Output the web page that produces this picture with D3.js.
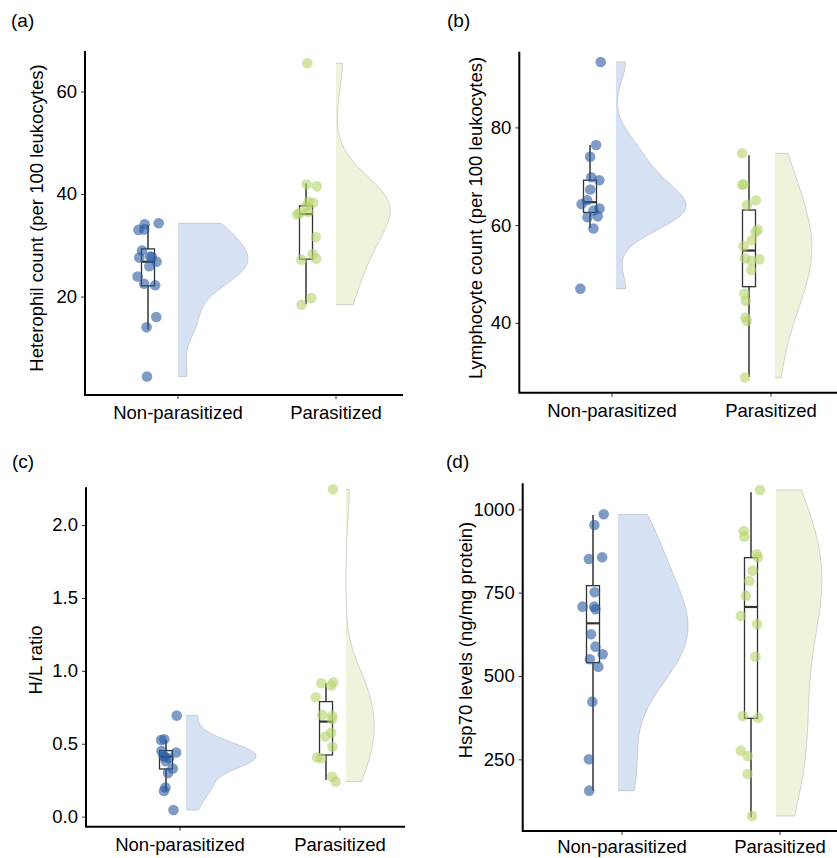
<!DOCTYPE html>
<html>
<head>
<meta charset="utf-8">
<script src="https://cdn.jsdelivr.net/npm/d3@7"></script>
<style>
  body { margin: 0; background: #fff; }
  svg { display: block; font-family: "Liberation Sans", Arial, sans-serif; }
</style>
</head>
<body>
<div id="vis-display"></div>
<script>
// Four raincloud panels: jittered points + boxplot + half violin, per group.

const GROUPS = ["Non-parasitized", "Parasitized"];

// ── Values ─────────────────────────────────────────────────────────────────
const hetNP = [34.3, 34.1, 33.1, 33.0, 29.0, 27.8, 27.7, 27.6, 26.8, 25.9, 23.9, 22.5, 22.2, 16.0, 14.0, 4.4];
const hetP  = [65.5, 41.9, 41.5, 38.5, 38.3, 37.6, 36.5, 36.3, 36.0, 31.6, 28.3, 27.4, 27.2, 19.7, 18.4];
const lymNP = [93.4, 76.4, 74.0, 69.8, 69.2, 67.3, 65.1, 64.3, 63.4, 63.0, 61.8, 61.6, 59.3, 47.0];
const lymP  = [74.7, 68.3, 68.3, 65.1, 64.1, 59.1, 58.6, 56.9, 55.7, 53.2, 53.0, 52.7, 50.8, 46.0, 44.5, 41.1, 40.4, 28.8];
const hlNP  = [0.693, 0.531, 0.525, 0.45, 0.44, 0.42, 0.41, 0.40, 0.38, 0.33, 0.30, 0.20, 0.176, 0.046];
const hlP   = [2.245, 0.922, 0.915, 0.90, 0.819, 0.698, 0.691, 0.668, 0.576, 0.549, 0.48, 0.405, 0.40, 0.274, 0.24];
const hspNP = [985, 953, 856, 851, 751, 708, 708, 700, 625, 588, 565, 550, 528, 423, 250, 156];
const hspP  = [1058, 935, 918, 865, 856, 816, 785, 741, 680, 656, 558, 380, 375, 276, 260, 206, 80];

// boxplot stats per group: [lower whisker, Q1, median, Q3, upper whisker]
const hetBox = [[13.6, 22.1, 26.8, 29.3, 34.0], [18.5, 27.3, 36.1, 37.7, 42.1]];
const lymBox = [[59.4, 62.6, 64.7, 69.2, 76.4], [28.9, 47.4, 54.8, 63.1, 74.3]];
const hlBox  = [[0.176, 0.327, 0.412, 0.453, 0.526], [0.252, 0.423, 0.652, 0.789, 0.915]];
const hspBox = [[156, 540, 658, 771, 983], [76, 373, 707, 855, 1051]];

const hetTicks = [20, 40, 60];
const lymTicks = [40, 60, 80];
const hlTicks  = [0, 0.5, 1.0, 1.5, 2.0];
const hspTicks = [250, 500, 750, 1000];

// ── Layout ────────────────────────────────────────────────────────────────
const W = 837, H = 858;
const FONT = 18.5;
const VIOLIN_MAX = 70;
const BW_ADJUST = 1.25;
const BOX_W = 13;
const PT_R = 5.3;

const POINT_FILL  = ["#2a5aa0", "#b5d36a"];
const VIOLIN_FILL = ["#d6e2f4", "#eef4dc"];

const panels = [
  { tag: "(a)", data: [hetNP, hetP], box: hetBox, ticks: hetTicks, fmt: d3.format("d"),
    title: "Heterophil count (per 100 leukocytes)",
    x0: 85, x1: 403, y0: 51, y1: 395, domain: [0.8, 67.9],
    cats: [178, 336], boxNudge: -30, violinNudge: 0,
    titleX: 36, titleY: 218, tagX: 11, tagY: 27, xLabY: 419, seed: 3 },
  { tag: "(b)", data: [lymNP, lymP], box: lymBox, ticks: lymTicks, fmt: d3.format("d"),
    title: "Lymphocyte count (per 100 leukocytes)",
    x0: 519.3, x1: 837, y0: 51.7, y1: 392.7, domain: [25.7, 95.5],
    cats: [612, 771], boxNudge: -22, violinNudge: 4,
    titleX: 475, titleY: 218, tagX: 447, tagY: 27, xLabY: 417, seed: 11 },
  { tag: "(c)", data: [hlNP, hlP], box: hlBox, ticks: hlTicks, fmt: d3.format(".1f"),
    title: "H/L ratio",
    x0: 86, x1: 405, y0: 487.3, y1: 826.7, domain: [-0.069, 2.259],
    cats: [180, 340], boxNudge: -14, violinNudge: 6,
    titleX: 35, titleY: 660, tagX: 12, tagY: 468, xLabY: 851, seed: 23 },
  { tag: "(d)", data: [hspNP, hspP], box: hspBox, ticks: hspTicks, fmt: d3.format("d"),
    title: "Hsp70 levels (ng/mg protein)",
    x0: 522.7, x1: 837, y0: 483.3, y1: 831, domain: [35, 1078],
    cats: [622, 780], boxNudge: -29, violinNudge: -4,
    titleX: 465, titleY: 640, tagX: 446, tagY: 468, xLabY: 853, seed: 7 },
];

// Gaussian KDE, bw.nrd0 * adjust, trimmed to the data range (flat violin)
function kde(values, n = 200) {
  const v = values.slice().sort(d3.ascending);
  const sd = d3.deviation(v);
  const iqr = d3.quantileSorted(v, 0.75) - d3.quantileSorted(v, 0.25);
  const bw = BW_ADJUST * 0.9 * Math.min(sd, iqr / 1.34) * Math.pow(v.length, -0.2);
  const [lo, hi] = d3.extent(v);
  return d3.range(n).map(i => {
    const t = lo + (hi - lo) * i / (n - 1);
    const dens = d3.mean(v, x => Math.exp(-0.5 * ((t - x) / bw) ** 2)) / (bw * Math.sqrt(2 * Math.PI));
    return [t, dens];
  });
}

const svg = d3.select("#vis-display").append("svg")
  .attr("width", W)
  .attr("height", H);

panels.forEach(p => {
  const g = svg.append("g");

  const y = d3.scaleLinear().domain(p.domain).range([p.y1, p.y0]);
  const x = d3.scalePoint().domain(GROUPS).range(p.cats);

  // ── Half violins ──
  const dens = p.data.map(d => kde(d));
  const maxD = d3.max(dens, ds => d3.max(ds, d => d[1]));
  const wScale = d3.scaleLinear().domain([0, maxD]).range([0, VIOLIN_MAX]);

  GROUPS.forEach((grp, i) => {
    const base = x(grp) + p.violinNudge;
    const ds = dens[i];
    g.append("path")
      .datum(ds)
      .attr("d", d3.area().x0(base).x1(d => base + wScale(d[1])).y(d => y(d[0])))
      .attr("fill", VIOLIN_FILL[i]);
    const edge = [[ds[0][0], 0], ...ds, [ds[ds.length - 1][0], 0]];
    g.append("path")
      .datum(edge)
      .attr("d", d3.line().x(d => base + wScale(d[1])).y(d => y(d[0])))
      .attr("fill", "none")
      .attr("stroke", "#a9a9a9")
      .attr("stroke-width", 0.5);
  });

  // ── Boxplots ──
  GROUPS.forEach((grp, i) => {
    const cx = x(grp) + p.boxNudge;
    const [lw, q1, med, q3, uw] = p.box[i];
    g.append("line")
      .attr("x1", cx).attr("x2", cx)
      .attr("y1", y(uw)).attr("y2", y(q3))
      .attr("stroke", "#333").attr("stroke-width", 1.5);
    g.append("line")
      .attr("x1", cx).attr("x2", cx)
      .attr("y1", y(q1)).attr("y2", y(lw))
      .attr("stroke", "#333").attr("stroke-width", 1.5);
    g.append("rect")
      .attr("x", cx - BOX_W / 2).attr("width", BOX_W)
      .attr("y", y(q3)).attr("height", y(q1) - y(q3))
      .attr("fill", "none").attr("stroke", "#333").attr("stroke-width", 1.3);
    g.append("line")
      .attr("x1", cx - BOX_W / 2).attr("x2", cx + BOX_W / 2)
      .attr("y1", y(med)).attr("y2", y(med))
      .attr("stroke", "#333").attr("stroke-width", 2.2);
  });

  // ── Jittered points ──
  const jitter = d3.randomUniform.source(d3.randomLcg(p.seed / 100))(-11, 11);
  GROUPS.forEach((grp, i) => {
    const cx = x(grp) + p.boxNudge;
    g.append("g")
      .selectAll("circle")
      .data(p.data[i])
      .join("circle")
        .attr("cx", () => cx + jitter())
        .attr("cy", d => y(d))
        .attr("r", PT_R)
        .attr("fill", POINT_FILL[i])
        .attr("fill-opacity", 0.6);
  });

  // ── Axes ──
  g.append("g")
    .attr("transform", `translate(${p.x0},0)`)
    .call(d3.axisLeft(y).tickValues(p.ticks).tickFormat(p.fmt).tickSize(4).tickPadding(4).tickSizeOuter(0))
    .call(ax => ax.select(".domain").remove())
    .call(ax => ax.selectAll(".tick line").attr("stroke", "#333"))
    .call(ax => ax.selectAll("text")
      .attr("fill", "#000")
      .style("font-size", FONT + "px")
      .style("font-family", '"Liberation Sans", Arial, sans-serif'));

  g.append("g")
    .selectAll("line")
    .data(GROUPS)
    .join("line")
      .attr("x1", d => x(d)).attr("x2", d => x(d))
      .attr("y1", p.y1).attr("y2", p.y1 + 4)
      .attr("stroke", "#333");

  g.append("path")
    .attr("d", `M${p.x0},${p.y0}V${p.y1}H${p.x1}`)
    .attr("fill", "none")
    .attr("stroke", "#000")
    .attr("stroke-width", 2);

  g.append("g")
    .selectAll("text")
    .data(GROUPS)
    .join("text")
      .attr("x", d => x(d))
      .attr("y", p.xLabY)
      .attr("text-anchor", "middle")
      .style("font-size", FONT + "px")
      .text(d => d);

  g.append("text")
    .attr("transform", `translate(${p.titleX},${p.titleY}) rotate(-90)`)
    .attr("text-anchor", "middle")
    .attr("dominant-baseline", "central")
    .style("font-size", FONT + "px")
    .text(p.title);

  g.append("text")
    .attr("x", p.tagX)
    .attr("y", p.tagY)
    .style("font-size", "19px")
    .text(p.tag);
});
</script>
</body>
</html>
